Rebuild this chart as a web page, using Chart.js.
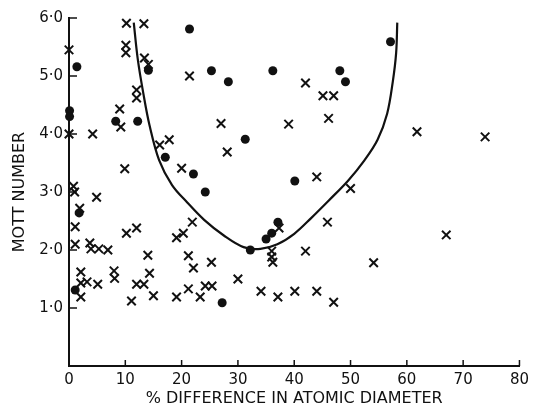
<!DOCTYPE html>
<html>
<head>
<meta charset="utf-8">
<script src="https://cdn.jsdelivr.net/npm/chart.js@4/dist/chart.umd.min.js"></script>
<style>
html,body{margin:0;padding:0;background:#fff;}
#wrap{width:534px;height:409px;position:relative;}
</style>
</head>
<body>
<div id="wrap"><canvas id="c" width="534" height="409"></canvas></div>
<script>
const xTicks = [0,10,20,30,40,50,60,70,80];
const yTicks = [1,2,3,4,5,6];

const crossX = [0.0,0.0,4.2,0.8,1.0,4.9,1.9,1.1,1.1,3.7,3.9,5.3,6.9,10.2,12.0,14.0,2.1,8.0,8.1,14.3,2.1,3.2,5.1,12.0,13.3,2.1,11.1,15.0,
  10.2,13.3,10.1,10.1,13.4,14.1,12.0,12.0,9.0,9.2,9.9,16.1,17.8,20.0,19.1,20.3,
  21.4,42.0,45.1,47.0,46.1,27.0,39.0,28.1,44.0,50.0,
  21.9,21.2,22.1,25.3,19.1,21.2,23.3,24.2,25.4,30.0,34.1,37.1,40.1,44.0,47.0,37.3,36.0,36.0,36.2,42.0,45.9,
  61.8,73.9,54.1,67.0];
const crossY = [5.45,4.0,4.0,3.1,3.0,2.91,2.72,2.4,2.1,2.12,2.02,2.02,2.0,2.29,2.38,1.91,1.62,1.64,1.51,1.6,1.43,1.45,1.41,1.41,1.41,1.19,1.12,1.21,
  5.91,5.9,5.53,5.4,5.31,5.2,4.76,4.62,4.43,4.12,3.4,3.81,3.9,3.41,2.21,2.29,
  5.0,4.88,4.66,4.66,4.27,4.18,4.17,3.69,3.26,3.06,
  2.48,1.9,1.69,1.79,1.19,1.33,1.19,1.38,1.38,1.5,1.29,1.19,1.29,1.29,1.1,2.38,1.98,1.88,1.79,1.98,2.48,
  4.04,3.95,1.78,2.26];

const dotX = [0.1,0.1,1.4,1.8,1.1,8.3,12.2,14.1,17.1,21.4,25.3,28.3,36.2,48.1,49.1,31.3,22.1,24.2,40.1,27.2,32.2,35.0,36.0,37.1,57.1];
const dotY = [4.4,4.3,5.16,2.64,1.31,4.22,4.22,5.1,3.6,5.81,5.09,4.9,5.09,5.09,4.9,3.91,3.31,3.0,3.19,1.09,2.0,2.19,2.29,2.48,5.59];

const curveX = [11.5,12.2,13.2,14.3,16.0,18.3,21.0,24.0,27.5,31.0,34.0,37.0,40.0,43.0,46.1,49.6,52.5,54.8,56.5,57.5,58.1,58.3];
const curveY = [5.92,5.3,4.7,4.15,3.55,3.12,2.82,2.52,2.25,2.05,2.02,2.1,2.28,2.55,2.85,3.2,3.55,3.9,4.35,4.9,5.4,5.92];

const zip = (xs, ys) => xs.map((x, i) => ({x, y: ys[i]}));
const FONT = 'DejaVu Sans';

const insideTicks = {
  id: 'insideTicks',
  afterDraw(chart) {
    const ctx = chart.ctx, xs = chart.scales.x, ys = chart.scales.y;
    ctx.save();
    ctx.strokeStyle = '#111';
    ctx.lineWidth = 1.5;
    xTicks.forEach(v => {
      if (v === 0) return;
      const px = xs.getPixelForValue(v);
      ctx.beginPath(); ctx.moveTo(px, ys.bottom); ctx.lineTo(px, ys.bottom - 6); ctx.stroke();
    });
    yTicks.forEach(v => {
      const py = ys.getPixelForValue(v);
      ctx.beginPath(); ctx.moveTo(xs.left, py); ctx.lineTo(xs.left + 8, py); ctx.stroke();
    });
    ctx.restore();
  }
};

new Chart(document.getElementById('c'), {
  type: 'scatter',
  data: {
    datasets: [
      {
        type: 'line',
        data: zip(curveX, curveY),
        borderColor: '#111',
        borderWidth: 2.2,
        pointRadius: 0,
        tension: 0.35,
        fill: false
      },
      {
        data: zip(crossX, crossY),
        pointStyle: 'crossRot',
        pointRadius: 6,
        borderColor: '#111',
        borderWidth: 2,
        backgroundColor: '#111'
      },
      {
        data: zip(dotX, dotY),
        pointStyle: 'circle',
        pointRadius: 4.5,
        borderColor: '#111',
        borderWidth: 0,
        backgroundColor: '#111'
      }
    ]
  },
  options: {
    responsive: false,
    animation: false,
    clip: false,
    layout: { padding: { top: 18, right: 12, left: 0, bottom: 0 } },
    plugins: { legend: { display: false }, tooltip: { enabled: false } },
    scales: {
      x: {
        type: 'linear', min: 0, max: 80,
        afterBuildTicks: s => { s.ticks = xTicks.map(v => ({value: v})); },
        grid: { display: false, drawTicks: false },
        border: { display: true, color: '#111', width: 2 },
        ticks: { color: '#111', font: { family: FONT, size: 15 }, padding: 5, maxRotation: 0 },
        title: { display: true, text: '% DIFFERENCE IN ATOMIC DIAMETER', color: '#111', font: { family: FONT, size: 16 }, padding: { top: 0, bottom: 1 } },
        afterFit: s => { s.height = 43; }
      },
      y: {
        type: 'linear', min: 0, max: 6,
        afterBuildTicks: s => { s.ticks = [0].concat(yTicks).map(v => ({value: v})); },
        grid: { display: false, drawTicks: false },
        border: { display: true, color: '#111', width: 2 },
        ticks: { color: '#111', font: { family: FONT, size: 15 }, padding: 6,
          callback: v => v === 0 ? '' : v.toFixed(1).replace('.', '·') },
        title: { display: true, text: 'MOTT NUMBER', color: '#111', font: { family: FONT, size: 16 }, padding: { top: 10, bottom: 0 } },
        afterFit: s => { s.width = 69; }
      }
    }
  },
  plugins: [insideTicks]
});
</script>
</body>
</html>
